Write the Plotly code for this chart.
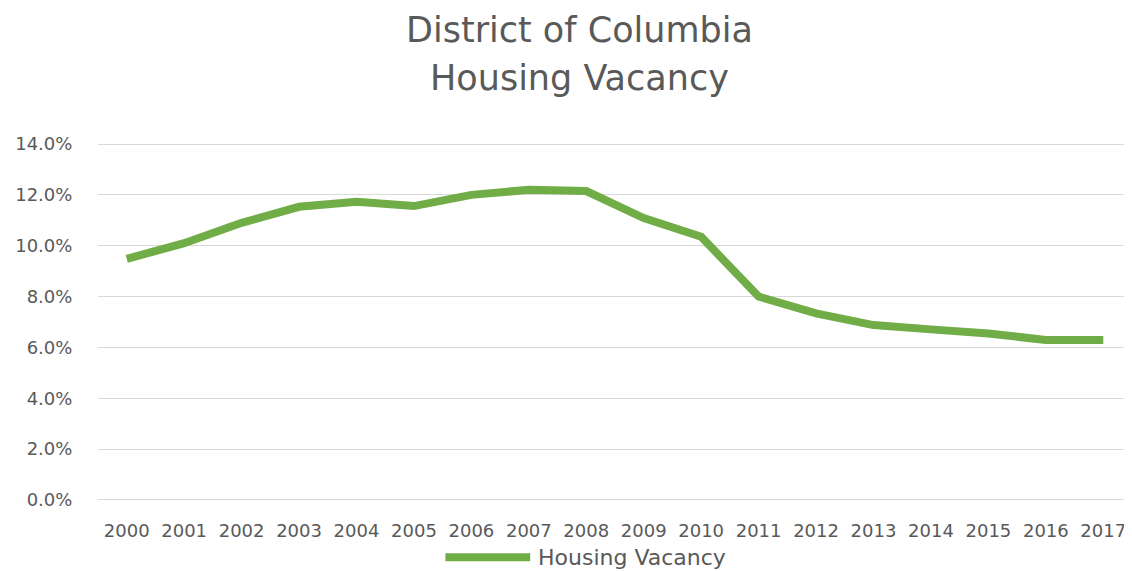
import plotly.graph_objects as go

years = [str(y) for y in range(2000, 2018)]
vacancy = [9.48, 10.1, 10.9, 11.53, 11.73, 11.56, 12.0, 12.2, 12.15,
           11.09, 10.35, 8.0, 7.34, 6.88, 6.71, 6.55, 6.29, 6.29]
series_name = "Housing Vacancy"
title_lines = ["District of Columbia", "Housing Vacancy"]
y_ticks = [0, 2, 4, 6, 8, 10, 12, 14]

green = "#70AD47"
grey_text = "#595959"
font_family = "DejaVu Sans"

fig = go.Figure()

fig.add_trace(
    go.Scatter(
        x=years,
        y=vacancy,
        mode="lines",
        name=series_name,
        line=dict(color=green, width=8),
        showlegend=False,
    )
)

# two-line title as annotations for exact placement
for text, ypos in zip(title_lines, [1.3156, 1.1816]):
    fig.add_annotation(
        text=text,
        xref="paper", yref="paper",
        x=0.466, y=ypos,
        xanchor="center", yanchor="middle",
        showarrow=False,
        font=dict(family=font_family, size=35, color=grey_text),
    )

# legend drawn by hand so the line sample is as long as in the original
fig.add_shape(
    type="line",
    xref="paper", yref="paper",
    x0=0.336, x1=0.418, y0=-0.157, y1=-0.157,
    line=dict(color=green, width=8),
)
fig.add_annotation(
    text=series_name,
    xref="paper", yref="paper",
    x=0.424, y=-0.157,
    xanchor="left", yanchor="middle",
    showarrow=False,
    font=dict(family=font_family, size=22, color=grey_text),
)

# page has an 8px body margin, so the figure is 8px smaller than the window
fig.update_layout(
    width=1124,
    height=563,
    paper_bgcolor="white",
    plot_bgcolor="white",
    margin=dict(l=90, r=0, t=135, b=70),
    xaxis=dict(
        type="category",
        range=[-0.5, 17.5],
        showgrid=False,
        showline=False,
        ticks="outside",
        ticklen=13,
        tickcolor="white",
        tickfont=dict(family=font_family, size=18, color=grey_text),
    ),
    yaxis=dict(
        # padded a hair so the 0% and 14% gridlines are drawn
        range=[-0.04, 14.04],
        tickvals=y_ticks,
        ticktext=[f"{v:.1f}%" for v in y_ticks],
        showgrid=True,
        gridcolor="#D9D9D9",
        gridwidth=1,
        zeroline=False,
        showline=False,
        ticks="outside",
        ticklen=21,
        tickcolor="white",
        tickfont=dict(family=font_family, size=18, color=grey_text),
    ),
)

fig.write_html("out.html")
